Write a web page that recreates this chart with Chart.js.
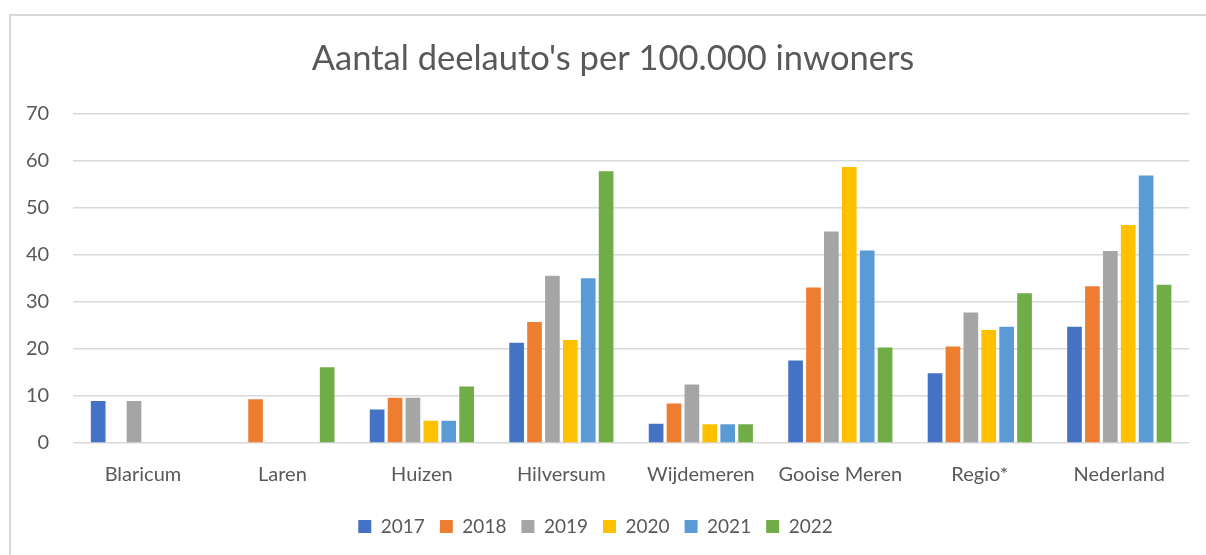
<!DOCTYPE html>
<html>
<head>
<meta charset="utf-8">
<script src="https://cdn.jsdelivr.net/npm/chart.js@4"></script>
<style>
  html, body { margin: 0; padding: 0; background: #fff; }
  #wrap { position: relative; width: 1206px; height: 555px; overflow: hidden; }
  #frame { position: absolute; left: 9px; top: 14px; width: 1300px; height: 700px;
           border-left: 2px solid #d9d9d9; border-top: 2px solid #d9d9d9; }
  canvas { position: absolute; left: 0; top: 0; }
</style>
</head>
<body>
<div id="wrap">
  <div id="frame"></div>
  <canvas id="chart" width="1206" height="555"></canvas>
</div>
<script>
// data
const gemeenten = ['Blaricum', 'Laren', 'Huizen', 'Hilversum', 'Wijdemeren', 'Gooise Meren', 'Regio*', 'Nederland'];
const jaren = ['2017', '2018', '2019', '2020', '2021', '2022'];
const kleuren = ['#4472c4', '#ed7d31', '#a5a5a5', '#ffc000', '#5b9bd5', '#70ad47'];

const waarden2017 = [8.9, null, 7.1, 21.3, 4.1, 17.5, 14.8, 24.7];
const waarden2018 = [null, 9.3, 9.6, 25.7, 8.4, 33.0, 20.5, 33.3];
const waarden2019 = [8.9, null, 9.6, 35.5, 12.4, 44.9, 27.7, 40.8];
const waarden2020 = [null, null, 4.7, 21.9, 4.0, 58.6, 24.0, 46.3];
const waarden2021 = [null, null, 4.7, 35.0, 4.0, 40.9, 24.7, 56.8];
const waarden2022 = [null, 16.1, 12.0, 57.7, 4.0, 20.3, 31.8, 33.6];

const yTicks = [0, 10, 20, 30, 40, 50, 60, 70];

const reeksen = [waarden2017, waarden2018, waarden2019, waarden2020, waarden2021, waarden2022];

const tekstKleur = '#595959';
const font = 'Lato, "Open Sans", sans-serif';

// the title in the original sits a bit right of the legend's centre
const titelVerschuiving = {
    id: 'titelVerschuiving',
    afterLayout(chart) {
        chart.titleBlock.left += 35;
    }
};

const ctx = document.getElementById('chart').getContext('2d');
new Chart(ctx, {
    type: 'bar',
    data: {
        labels: gemeenten,
        datasets: reeksen.map((data, i) => ({
            label: jaren[i],
            data: data,
            backgroundColor: kleuren[i],
            borderWidth: 0,
            categoryPercentage: 0.77,
            barPercentage: 0.82
        }))
    },
    plugins: [titelVerschuiving],
    options: {
        responsive: false,
        animation: false,
        layout: { padding: { left: 2, right: 17, top: 0, bottom: 9 } },
        plugins: {
            title: {
                display: true,
                text: "Aantal deelauto's per 100.000 inwoners",
                color: tekstKleur,
                font: { family: font, size: 34.5, weight: 'normal' },
                padding: { top: 38, bottom: 34 }
            },
            legend: {
                position: 'bottom',
                labels: {
                    color: tekstKleur,
                    font: { family: font, size: 19 },
                    boxWidth: 13,
                    boxHeight: 13,
                    padding: 15
                }
            },
            tooltip: { enabled: false }
        },
        scales: {
            x: {
                grid: { display: false },
                border: { display: false },
                afterFit: axis => { axis.height += 3; },
                ticks: {
                    color: tekstKleur,
                    font: { family: font, size: 20 },
                    padding: 12
                }
            },
            y: {
                min: 0,
                max: 70,
                afterBuildTicks: axis => { axis.ticks = yTicks.map(v => ({ value: v })); },
                grid: { color: '#d9d9d9', lineWidth: 1.5, drawTicks: false },
                border: { display: false },
                ticks: {
                    color: tekstKleur,
                    font: { family: font, size: 20 },
                    padding: 24
                }
            }
        }
    }
});
</script>
</body>
</html>
